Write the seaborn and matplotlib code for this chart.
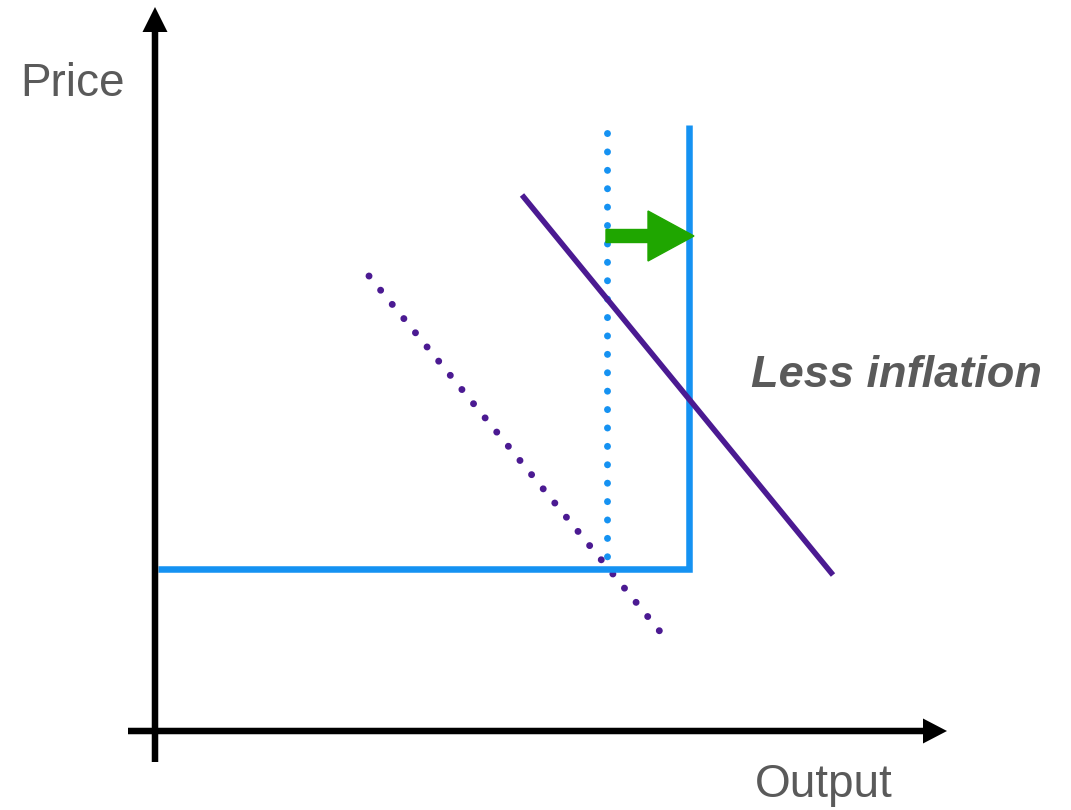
import matplotlib
matplotlib.use("Agg")
import matplotlib.pyplot as plt
import seaborn as sns
import pandas as pd

# ---- data (pixel-space schematic coordinates) ----
supply_x = [158, 689, 689]
supply_y = [569, 569, 125]
old_supply_x = [607, 607]
old_supply_y = [133, 560]
demand_x = [522, 833]
demand_y = [195, 575]
old_demand_x = [369, 662]
old_demand_y = [276, 634]
shift_x = [606, 694]
shift_y = [236, 236]
y_axis_x = [155, 155]
y_axis_y = [762, 7]
x_axis_x = [128, 947]
x_axis_y = [731, 731]
label_price = "Price"
label_output = "Output"
label_note = "Less inflation"

sns.set_theme(style="white")
plt.rcParams['font.family'] = ['Liberation Sans', 'DejaVu Sans']

fig = plt.figure(figsize=(10.71, 8.10), dpi=100)
ax = fig.add_axes([0, 0, 1, 1])
ax.set_xlim(0, 1071)
ax.set_ylim(810, 0)
ax.axis("off")

BLUE = "#1592f2"
PURPLE = "#4b1a92"
GRAY = "#5a5a5a"
GREEN = "#1fa600"

def line(xs, ys, **kw):
    df = pd.DataFrame({"x": xs, "y": ys})
    sns.lineplot(data=df, x="x", y="y", ax=ax, sort=False, estimator=None, **kw)

# axes arrows
ax.arrow(y_axis_x[0], y_axis_y[0], y_axis_x[1] - y_axis_x[0], y_axis_y[1] - y_axis_y[0],
         width=6.5, head_width=25, head_length=25, length_includes_head=True,
         fc="black", ec="none", zorder=3)
ax.arrow(x_axis_x[0], x_axis_y[0], x_axis_x[1] - x_axis_x[0], x_axis_y[1] - x_axis_y[0],
         width=6.5, head_width=25, head_length=24, length_includes_head=True,
         fc="black", ec="none", zorder=3)

# dotted (old) curves
dot_lw = 5.0
line(old_supply_x, old_supply_y, color=BLUE, linewidth=dot_lw,
     linestyle=(0, (0.01, 2.64)), dash_capstyle="round")
line(old_demand_x, old_demand_y, color=PURPLE, linewidth=dot_lw,
     linestyle=(0, (0.01, 2.63)), dash_capstyle="round")

# solid (new) curves
line(supply_x, supply_y, color=BLUE, linewidth=4.7, solid_joinstyle="miter",
     solid_capstyle="butt")
line(demand_x, demand_y, color=PURPLE, linewidth=4.0, solid_capstyle="butt")

# green shift arrow
ax.arrow(shift_x[0], shift_y[0], shift_x[1] - shift_x[0], shift_y[1] - shift_y[0],
         width=13, head_width=50, head_length=46, length_includes_head=True,
         fc=GREEN, ec=GREEN, lw=1, zorder=4)

# texts
ax.text(20, 96, label_price, fontsize=33, color=GRAY, ha="left", va="baseline")
ax.text(755, 797, label_output, fontsize=33, color=GRAY, ha="left", va="baseline")
ax.text(751, 387, label_note, fontsize=32.5, color=GRAY, ha="left", va="baseline",
        fontweight="bold", fontstyle="italic")

ax.set_xlabel("")
ax.set_ylabel("")
fig.savefig("out.png", dpi=100)
